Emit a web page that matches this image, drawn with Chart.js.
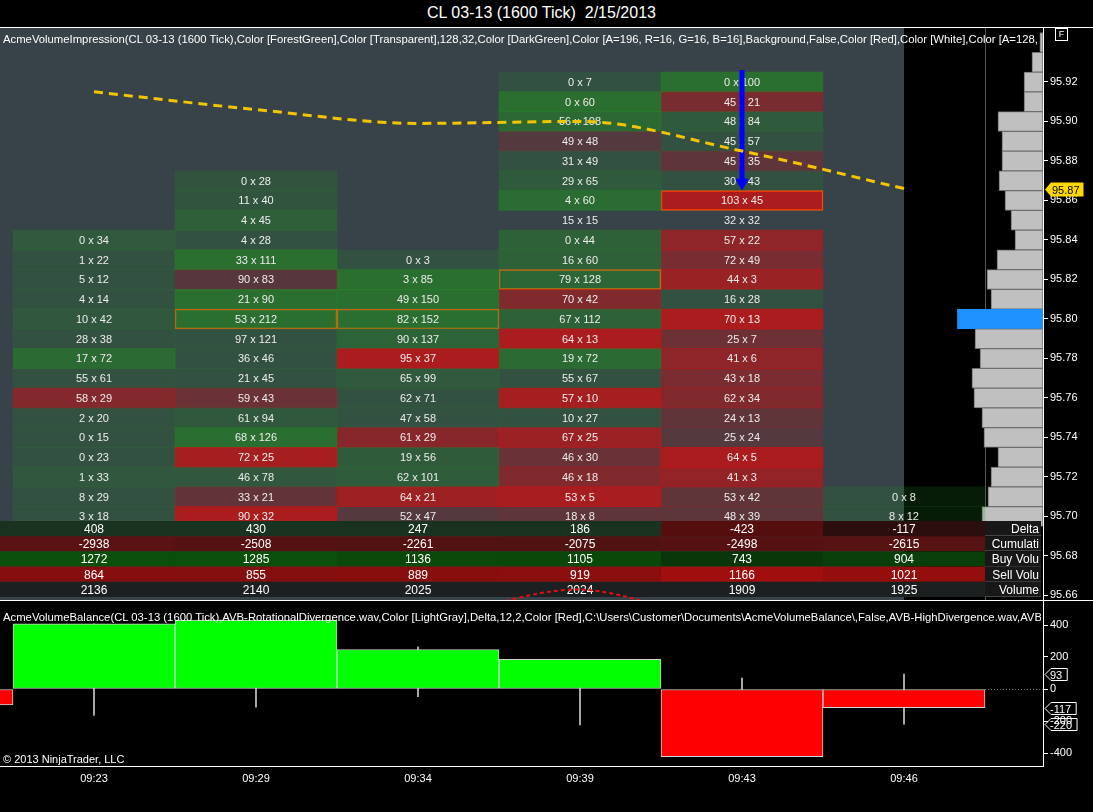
<!DOCTYPE html>
<html>
<head>
<meta charset="utf-8">
<title>CL 03-13 (1600 Tick) 2/15/2013</title>
<script src="https://cdn.jsdelivr.net/npm/chart.js@4.4.1/dist/chart.umd.min.js"></script>
<style>
  html, body { margin: 0; padding: 0; background: #000; }
  #wrap { position: relative; width: 1093px; height: 812px; overflow: hidden; background: #000;
          font-family: "Liberation Sans", Arial, sans-serif; color: #fff; }
  #title { position: absolute; left: 0; top: 4px; width: 1083px; text-align: center; font-size: 16px; line-height: 18px; }
  .hline { position: absolute; left: 0; width: 1093px; height: 1px; background: #fff; }
  #main { position: absolute; left: 0; top: 28px; }
  #lower { position: absolute; left: 0; top: 601px; }
  .ind { position: absolute; left: 3px; width: 1038px; overflow: hidden; white-space: nowrap; font-size: 11.3px; line-height: 13px; }
  #fbox { position: absolute; left: 1055px; top: 28px; width: 11px; height: 11px; border: 1px solid #fff;
          font-size: 9px; line-height: 11px; text-align: center; }
  #copy { position: absolute; left: 3px; top: 753px; font-size: 11px; line-height: 13px; }
</style>
</head>
<body>
<div id="wrap">
  <div id="title">CL 03-13 (1600 Tick)&nbsp; 2/15/2013</div>
  <div class="hline" style="top:27px"></div>
  <canvas id="main" width="1093" height="572"></canvas>
  <div class="hline" style="top:600px"></div>
  <canvas id="lower" width="1093" height="211"></canvas>
  <div class="ind" style="top:33px">AcmeVolumeImpression(CL 03-13 (1600 Tick),Color [ForestGreen],Color [Transparent],128,32,Color [DarkGreen],Color [A=196, R=16, G=16, B=16],Background,False,Color [Red],Color [White],Color [A=128, R=128, G=128, B=128]</div>
  <div id="fbox">F</div>
  <div class="ind" style="top:611px">AcmeVolumeBalance(CL 03-13 (1600 Tick),AVB-RotationalDivergence.wav,Color [LightGray],Delta,12,2,Color [Red],C:\Users\Customer\Documents\AcmeVolumeBalance\,False,AVB-HighDivergence.wav,AVB-HighDivergence.wav</div>
  <div id="copy">© 2013 NinjaTrader, LLC</div>
</div>
<script>
Chart.defaults.font.family = '"Liberation Sans", Arial, sans-serif';
Chart.defaults.color = '#fff';

/*--Data--*/
var times = ['09:23', '09:29', '09:34', '09:39', '09:43', '09:46'];
var topLevel = [95.84, 95.87, 95.83, 95.92, 95.92, 95.71];   // highest price of each bar

// bid x ask per price level, from the top level down
var bid1 = [0, 1, 5, 4, 10, 28, 17, 55, 58, 2, 0, 0, 1, 8, 3];
var ask1 = [34, 22, 12, 14, 42, 38, 72, 61, 29, 20, 15, 23, 33, 29, 18];
var bid2 = [0, 11, 4, 4, 33, 90, 21, 53, 97, 36, 21, 59, 61, 68, 72, 46, 33, 90];
var ask2 = [28, 40, 45, 28, 111, 83, 90, 212, 121, 46, 45, 43, 94, 126, 25, 78, 21, 32];
var bid3 = [0, 3, 49, 82, 90, 95, 65, 62, 47, 61, 19, 62, 64, 52];
var ask3 = [3, 85, 150, 152, 137, 37, 99, 71, 58, 29, 56, 101, 21, 47];
var bid4 = [0, 0, 56, 49, 31, 29, 4, 15, 0, 16, 79, 70, 67, 64, 19, 55, 57, 10, 67, 46, 46, 53, 18];
var ask4 = [7, 60, 108, 48, 49, 65, 60, 15, 44, 60, 128, 42, 112, 13, 72, 67, 10, 27, 25, 30, 18, 5, 8];
var bid5 = [0, 45, 48, 45, 45, 30, 103, 32, 57, 72, 44, 16, 70, 25, 41, 43, 62, 24, 25, 64, 41, 53, 48];
var ask5 = [100, 21, 84, 57, 35, 43, 45, 32, 22, 49, 3, 28, 13, 7, 6, 18, 34, 13, 24, 5, 3, 42, 39];
var bid6 = [0, 8];
var ask6 = [8, 12];
var pocLevel = [null, 95.80, 95.80, 95.82, 95.86, null];

var vwap = [95.915, 95.906, 95.899, 95.900, 95.885, 95.866];
var arrowPrices = [95.926, 95.869];
var swingIndex = [2, 3, 4];
var swingPrices = [95.645, 95.663, 95.641];

var profilePrice = [95.94, 95.93, 95.92, 95.91, 95.90, 95.89, 95.88, 95.87, 95.86, 95.85, 95.84, 95.83, 95.82,
                    95.81, 95.80, 95.79, 95.78, 95.77, 95.76, 95.75, 95.74, 95.73, 95.72, 95.71, 95.70];
var profileVolume = [30, 105, 180, 180, 428, 390, 390, 418, 361, 304, 266, 437, 532,
                     494, 813, 646, 598, 675, 656, 580, 561, 428, 494, 523, 580];

var delta = [408, 430, 247, 186, -423, -117];
var cumDelta = [-2938, -2508, -2261, -2075, -2498, -2615];
var buyVolume = [1272, 1285, 1136, 1105, 743, 904];
var sellVolume = [864, 855, 889, 919, 1166, 1021];
var totalVolume = [2136, 2140, 2025, 2024, 1909, 1925];
var prevBarDelta = -100;
var deltaHigh = [408, 430, 264, 186, 69, 93];
var deltaLow = [-165, -113, -48, -225, -423, -220];

var priceTicks = [95.92, 95.90, 95.88, 95.86, 95.84, 95.82, 95.80, 95.78, 95.76, 95.74, 95.72, 95.70, 95.68, 95.66];
var deltaTicks = [400, 200, 0, -200, -400];
/*--------*/

var X_MIN = -0.5802, X_MAX = 5.858;

function noPad(s) { s.paddingLeft = 0; s.paddingRight = 0; s.paddingTop = 0; s.paddingBottom = 0; }

function cellColor(bid, ask) {
  var d = ask - bid;
  if (d === 0) return 'rgba(0,0,0,0)';
  if (d > 0) {
    var g = Math.min(Math.max((d - 25) / 35, 0), 1);
    return 'rgba(34,139,34,' + (0.2 + 0.42 * g).toFixed(3) + ')';
  }
  var r = Math.min(Math.max((-d - 5) / 45, 0), 1);
  return 'rgba(255,0,0,' + (0.15 + 0.43 * r).toFixed(3) + ')';
}

var columns = [[bid1, ask1], [bid2, ask2], [bid3, ask3], [bid4, ask4], [bid5, ask5], [bid6, ask6]];
var cellSets = columns.map(function (c, ci) {
  var bids = c[0], asks = c[1];
  var pts = [], fills = [], widths = [], labels = [];
  bids.forEach(function (b, k) {
    var p = +(topLevel[ci] - k * 0.01).toFixed(2);
    pts.push({x: ci, y: [p - 0.005, p + 0.005]});
    fills.push(cellColor(b, asks[k]));
    widths.push(pocLevel[ci] !== null && Math.abs(pocLevel[ci] - p) < 0.001 ? 1 : 0);
    labels.push(b + ' x ' + asks[k]);
  });
  return {
    type: 'bar', data: pts, backgroundColor: fills, borderColor: 'rgb(225,95,15)',
    borderWidth: widths, borderSkipped: false, order: 2, cellLabels: labels,
    xAxisID: 'x', yAxisID: 'y'
  };
});

var maxProfile = Math.max.apply(null, profileVolume);

/*--Plugins--*/
var panelBg = {
  id: 'panelBg',
  beforeDatasetsDraw: function (chart) {
    var ctx = chart.ctx, a = chart.chartArea, x = chart.scales.x;
    ctx.save();
    ctx.fillStyle = '#374349';
    ctx.fillRect(a.left, a.top, x.getPixelForValue(5) - a.left, a.bottom - a.top);
    var sx = Math.round(x.getPixelForValue(5.5)) + 0.5;
    ctx.strokeStyle = '#555';
    ctx.beginPath(); ctx.moveTo(sx, a.top); ctx.lineTo(sx, a.bottom); ctx.stroke();
    ctx.restore();
  }
};

var cellText = {
  id: 'cellText',
  afterDatasetDraw: function (chart, args) {
    var ds = chart.data.datasets[args.index];
    if (!ds.cellLabels) return;
    var ctx = chart.ctx;
    ctx.save();
    ctx.font = '11px "Liberation Sans", Arial, sans-serif';
    ctx.fillStyle = '#ececec';
    ctx.textAlign = 'center';
    ctx.textBaseline = 'middle';
    args.meta.data.forEach(function (el, i) {
      var p = el.getProps(['x', 'y', 'base'], true);
      ctx.fillText(ds.cellLabels[i], p.x, (p.y + p.base) / 2 + 1);
    });
    ctx.restore();
  }
};

var summaryRows = [
  {name: 'Delta', values: delta, color: function (v) {
    return v >= 0 ? 'rgb(26,50,32)' : 'rgb(' + Math.round(30 + 55 * Math.min(-v / 423, 1)) + ',14,14)'; }},
  {name: 'Cumulati', values: cumDelta, color: function (v) {
    return 'rgb(' + Math.round(60 + 30 * Math.min(-v / 2938, 1)) + ',18,18)'; }},
  {name: 'Buy Volu', values: buyVolume, color: function (v) {
    return 'rgb(10,' + Math.round(20 + 60 * v / 1285) + ',10)'; }},
  {name: 'Sell Volu', values: sellVolume, color: function (v) {
    return 'rgb(' + Math.round(60 + 100 * v / 1166) + ',14,14)'; }},
  {name: 'Volume', values: totalVolume, color: function () { return 'rgb(28,32,32)'; }}
];

// drawn right after the first cell column (the last cell dataset painted), so lines stay on top
var summary = {
  id: 'summary',
  afterDatasetDraw: function (chart, args) {
    if (args.index !== 0) return;
    var ctx = chart.ctx, a = chart.chartArea, x = chart.scales.x;
    var rowH = 15.2, top = a.bottom - 3 - rowH * summaryRows.length;
    var labX = x.getPixelForValue(5.5);
    ctx.save();
    ctx.font = '12px "Liberation Sans", Arial, sans-serif';
    ctx.textBaseline = 'middle';
    summaryRows.forEach(function (row, r) {
      var y0 = top + r * rowH;
      row.values.forEach(function (v, i) {
        var l = i === 0 ? a.left : x.getPixelForValue(i - 0.5), rr = x.getPixelForValue(i + 0.5);
        ctx.fillStyle = row.color(v);
        ctx.fillRect(l, y0, rr - l, rowH);
        ctx.fillStyle = '#fff';
        ctx.textAlign = 'center';
        ctx.fillText(String(v), x.getPixelForValue(i), y0 + rowH / 2 + 1);
      });
      ctx.fillStyle = 'rgb(24,24,24)';
      ctx.fillRect(labX, y0, a.right - labX - 2, rowH);
      ctx.strokeStyle = '#444';
      ctx.beginPath(); ctx.moveTo(labX, Math.round(y0 + rowH) - 0.5); ctx.lineTo(a.right - 2, Math.round(y0 + rowH) - 0.5); ctx.stroke();
      ctx.fillStyle = '#fff';
      ctx.textAlign = 'right';
      ctx.fillText(row.name, a.right - 4, y0 + rowH / 2 + 1);
    });
    ctx.restore();
  }
};

function tagPath(ctx, x, y, w, h) {
  ctx.beginPath();
  ctx.moveTo(x, y);
  ctx.lineTo(x + 6, y - h / 2);
  ctx.lineTo(x + w, y - h / 2);
  ctx.lineTo(x + w, y + h / 2);
  ctx.lineTo(x + 6, y + h / 2);
  ctx.closePath();
}

var priceTag = {
  id: 'priceTag',
  afterDraw: function (chart) {
    var ctx = chart.ctx, a = chart.chartArea, y = chart.scales.y;
    var v = vwap[vwap.length - 1], py = Math.round(y.getPixelForValue(v)) + 0.5;
    var txt = v.toFixed(2);
    ctx.save();
    ctx.font = '11px "Liberation Sans", Arial, sans-serif';
    var w = ctx.measureText(txt).width + 11;
    tagPath(ctx, a.right + 2, py, w, 14);
    ctx.fillStyle = '#ffd700';
    ctx.fill();
    ctx.fillStyle = '#000';
    ctx.textBaseline = 'middle';
    ctx.textAlign = 'left';
    ctx.fillText(txt, a.right + 9, py + 1);
    ctx.restore();
  }
};

var deltaTags = {
  id: 'deltaTags',
  afterDraw: function (chart) {
    var ctx = chart.ctx, a = chart.chartArea, x = chart.scales.x, y = chart.scales.y;
    ctx.save();
    // dotted zero line right of the last bar
    ctx.strokeStyle = '#777';
    ctx.setLineDash([1, 2]);
    var zy = Math.round(y.getPixelForValue(0)) + 0.5;
    ctx.beginPath(); ctx.moveTo(x.getPixelForValue(5.5), zy); ctx.lineTo(a.right, zy); ctx.stroke();
    ctx.setLineDash([]);
    ctx.font = '11px "Liberation Sans", Arial, sans-serif';
    ctx.textBaseline = 'middle';
    ctx.textAlign = 'left';
    var last = delta.length - 1;
    [deltaHigh[last], delta[last], deltaLow[last]].forEach(function (v) {
      var py = Math.round(y.getPixelForValue(v)) + 0.5;
      var w = ctx.measureText(String(v)).width + 10;
      tagPath(ctx, a.right + 2, py, w, 12);
      ctx.strokeStyle = '#fff';
      ctx.stroke();
      ctx.fillStyle = '#fff';
      ctx.fillText(String(v), a.right + 7, py + 1);
    });
    ctx.restore();
  }
};
/*--------*/

/*--Main panel--*/
var mainSets = cellSets.concat([
  {
    type: 'bar', indexAxis: 'y', xAxisID: 'xv', yAxisID: 'yp', order: 3,
    data: profilePrice.map(function (p, i) { return {y: p, x: profileVolume[i]}; }),
    backgroundColor: profileVolume.map(function (v) { return v === maxProfile ? '#1e90ff' : '#c0c0c0'; }),
    borderColor: profileVolume.map(function (v) { return v === maxProfile ? '#1e90ff' : '#6e6e6e'; }),
    borderWidth: 1, borderSkipped: false
  },
  {
    type: 'line', xAxisID: 'x', yAxisID: 'y', order: 0,
    data: vwap.map(function (v, i) { return {x: i, y: v}; }),
    borderColor: '#f5c400', borderWidth: 3, borderDash: [9, 6], cubicInterpolationMode: 'monotone',
    pointRadius: 0, fill: false
  },
  {
    type: 'line', xAxisID: 'x', yAxisID: 'y', order: 0,
    data: swingPrices.map(function (v, i) { return {x: swingIndex[i], y: v}; }),
    borderColor: '#e01010', borderWidth: 2, borderDash: [4, 3], tension: 0.3,
    pointRadius: 0, fill: false
  },
  {
    type: 'line', xAxisID: 'x', yAxisID: 'y', order: 0,
    data: arrowPrices.map(function (v) { return {x: 4, y: v}; }),
    borderColor: '#0000ff', borderWidth: 5, tension: 0,
    pointStyle: 'triangle', pointRotation: 180, pointRadius: [0, 7],
    pointBackgroundColor: '#0000ff', pointBorderColor: '#0000ff', pointBorderWidth: 1, fill: false
  }
]);

var mainChart = new Chart('main', {
  type: 'bar',
  data: {datasets: mainSets},
  options: {
    responsive: false, animation: false, devicePixelRatio: 1, events: [],
    layout: {padding: 0, autoPadding: false},
    plugins: {legend: {display: false}, tooltip: {enabled: false}},
    datasets: {bar: {grouped: false, categoryPercentage: 1, barPercentage: 1}},
    scales: {
      x: {
        type: 'linear', display: false, offset: false, min: X_MIN, max: X_MAX,
        afterBuildTicks: function (s) { s.ticks = times.map(function (t, i) { return {value: i}; }); },
        afterFit: noPad
      },
      y: {
        type: 'linear', position: 'right', offset: false, min: 95.6577, max: 95.9473,
        afterBuildTicks: function (s) { s.ticks = priceTicks.map(function (v) { return {value: v}; }); },
        afterFit: function (s) { s.width = 50; noPad(s); },
        ticks: {color: '#fff', font: {size: 11}, padding: 2, callback: function (v) { return v.toFixed(2); }},
        grid: {drawOnChartArea: false, color: '#fff', tickLength: 5},
        border: {color: '#fff'}
      },
      xv: {type: 'linear', display: false, offset: false, min: 0, max: 9908, reverse: true, afterFit: noPad},
      yp: {
        type: 'linear', display: false, offset: false, min: 95.6577, max: 95.9473,
        afterBuildTicks: function (s) { s.ticks = profilePrice.map(function (v) { return {value: v}; }); },
        afterFit: noPad
      }
    }
  },
  plugins: [panelBg, cellText, summary, priceTag]
});

/*--Lower panel--*/
var lowerChart = new Chart('lower', {
  type: 'bar',
  data: {
    datasets: [
      {
        data: deltaHigh.map(function (h, i) { return {x: i, y: [deltaLow[i], h]}; }),
        backgroundColor: '#c8c8c8', barThickness: 1, order: 2
      },
      {
        data: [{x: -1, y: prevBarDelta}].concat(delta.map(function (v, i) { return {x: i, y: v}; })),
        backgroundColor: [prevBarDelta].concat(delta).map(function (v) { return v >= 0 ? '#00ff00' : '#ff0000'; }),
        borderColor: '#d2d2d2', borderWidth: 1, borderSkipped: false, order: 1
      }
    ]
  },
  options: {
    responsive: false, animation: false, devicePixelRatio: 1, events: [],
    layout: {padding: 0, autoPadding: false},
    plugins: {legend: {display: false}, tooltip: {enabled: false}},
    datasets: {bar: {grouped: false, categoryPercentage: 1, barPercentage: 1}},
    scales: {
      x: {
        type: 'linear', offset: false, min: X_MIN, max: X_MAX,
        afterBuildTicks: function (s) { s.ticks = times.map(function (t, i) { return {value: i}; }); },
        afterFit: function (s) { s.height = 46; noPad(s); },
        ticks: {color: '#fff', font: {size: 11}, padding: 6, autoSkip: false, maxRotation: 0,
                callback: function (v) { return times[v]; }},
        grid: {display: false, drawTicks: false},
        border: {color: '#fff'}
      },
      y: {
        type: 'linear', position: 'right', offset: false, min: -481.25, max: 550,
        afterBuildTicks: function (s) { s.ticks = deltaTicks.map(function (v) { return {value: v}; }); },
        afterFit: function (s) { s.width = 50; noPad(s); },
        ticks: {color: '#fff', font: {size: 11}, padding: 2},
        grid: {drawOnChartArea: false, color: '#fff', tickLength: 5},
        border: {color: '#fff'}
      }
    }
  },
  plugins: [deltaTags]
});
</script>
</body>
</html>
